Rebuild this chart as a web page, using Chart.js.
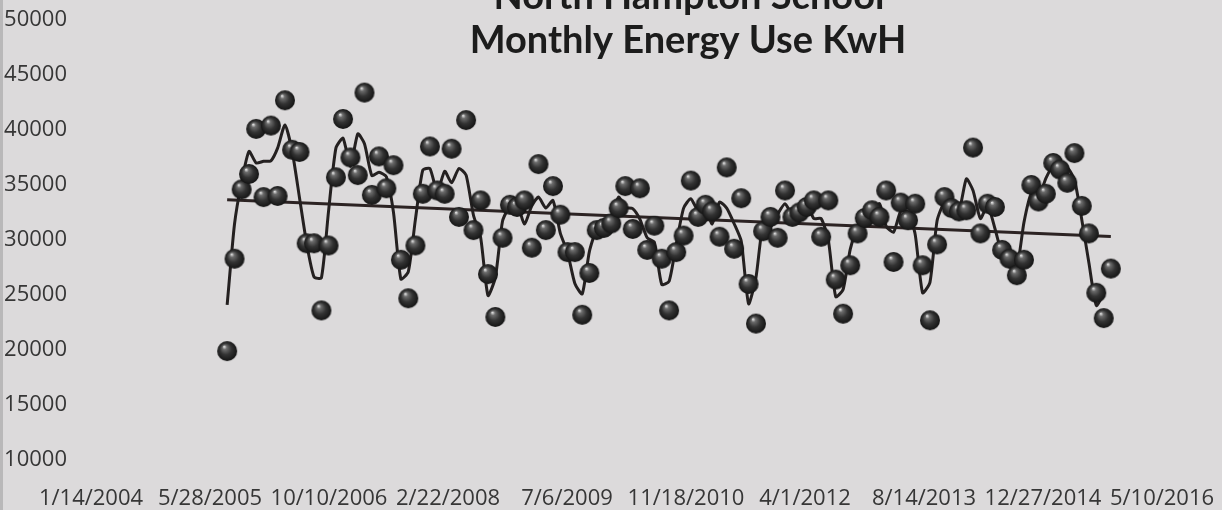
<!DOCTYPE html>
<html>
<head>
<meta charset="utf-8">
<title>North Hampton School - Monthly Energy Use</title>
<script src="https://cdn.jsdelivr.net/npm/chart.js@4.4.1/dist/chart.umd.min.js"></script>
<style>
  html, body { margin: 0; padding: 0; }
  body { background: linear-gradient(to right, #b9b8b9 0, #b9b8b9 3px, #dcdadb 3px); }
  #wrap { width: 1222px; height: 510px; }
</style>
</head>
<body>
<div id="wrap"><canvas id="energyChart" width="1222" height="510"></canvas></div>
<script>
const titleLines = ["North Hampton School", "Monthly Energy Use KwH"];

// monthly readings in kWh, one array per calendar year
// first reading is August 2005, last is October 2015
const firstYear = 2005;
const firstMonth = 7; // 0-based, August
const kwh2005 = [19900, 28300, 34600, 36000, 40100];
const kwh2006 = [33900, 40400, 34000, 42700, 38200, 38000, 29700, 29700, 23600, 29500, 35700, 41000];
const kwh2007 = [37500, 35900, 43400, 34100, 37600, 34700, 36800, 28200, 24700, 29500, 34200, 38500];
const kwh2008 = [34500, 34200, 38300, 32100, 40900, 30900, 33600, 26900, 23000, 30200, 33200, 33000];
const kwh2009 = [33600, 29300, 36900, 30900, 34900, 32300, 28900, 28900, 23200, 27000, 30900, 31100];
const kwh2010 = [31500, 32900, 34900, 31000, 34700, 29100, 31300, 28300, 23600, 28900, 30400, 35400];
const kwh2011 = [32100, 33200, 32600, 30300, 36600, 29200, 33800, 26000, 22400, 30800, 32100, 30200];
const kwh2012 = [34500, 32100, 32500, 33000, 33600, 30300, 33600, 26400, 23300, 27700, 30600, 32000];
const kwh2013 = [32700, 32100, 34500, 28000, 33400, 31800, 33300, 27700, 22700, 29600, 33900, 32900];
const kwh2014 = [32600, 32700, 38400, 30600, 33300, 33000, 29100, 28300, 26800, 28200, 35000, 33500];
const kwh2015 = [34200, 37000, 36400, 35200, 37900, 33100, 30600, 25200, 22900, 27400];

const yearly = [kwh2005, kwh2006, kwh2007, kwh2008, kwh2009, kwh2010,
                kwh2011, kwh2012, kwh2013, kwh2014, kwh2015];

// axis in Excel date serials: 1/14/2004 .. 5/10/2016, every 500 days
const xMin = 38000;
const xMax = 42500;
const xStep = 500;
const yMin = 10000;
const yMax = 50000;
const yStep = 5000;

const toSerial = (y, m, d) => Date.UTC(y, m, d) / 86400000 + 25569;
const serialLabel = (s) => {
  const d = new Date((s - 25569) * 86400000);
  return (d.getUTCMonth() + 1) + "/" + d.getUTCDate() + "/" + d.getUTCFullYear();
};

const points = [];
yearly.forEach((vals, yi) => {
  const start = yi === 0 ? firstMonth : 0;
  vals.forEach((v, k) => {
    points.push({ x: toSerial(firstYear + yi, start + k, 8), y: v });
  });
});

// 2 period moving average
const movingAvg = [];
for (let i = 0; i < points.length - 1; i++) {
  movingAvg.push({ x: points[i].x, y: (points[i].y + points[i + 1].y) / 2 });
}

// linear trend (least squares)
const n = points.length;
const mx = points.reduce((a, p) => a + p.x, 0) / n;
const my = points.reduce((a, p) => a + p.y, 0) / n;
let sxy = 0, sxx = 0;
points.forEach(p => { sxy += (p.x - mx) * (p.y - my); sxx += (p.x - mx) * (p.x - mx); });
const slope = sxy / sxx;
const trend = [points[0].x, points[n - 1].x].map(x => ({ x: x, y: my + slope * (x - mx) }));

const makeBall = (r) => {
  const c = document.createElement("canvas");
  const s = r * 2 + 2;
  c.width = s;
  c.height = s;
  const g = c.getContext("2d");
  const cx = s / 2, cy = s / 2;
  const grad = g.createRadialGradient(cx - r * 0.3, cy - r * 0.45, r * 0.05, cx, cy, r);
  grad.addColorStop(0, "#dadada");
  grad.addColorStop(0.18, "#6c6c6c");
  grad.addColorStop(0.55, "#333333");
  grad.addColorStop(1, "#141414");
  g.fillStyle = grad;
  g.beginPath();
  g.arc(cx, cy, r, 0, Math.PI * 2);
  g.fill();
  return c;
};

const overlayTitle = {
  id: "overlayTitle",
  afterDraw(chart) {
    const ctx = chart.ctx;
    ctx.save();
    ctx.fillStyle = "#1c1c1c";
    ctx.font = "bold 38px Lato";
    ctx.textAlign = "center";
    ctx.textBaseline = "alphabetic";
    ctx.fillText(titleLines[0], 689, 9);
    ctx.fillText(titleLines[1], 688, 53);
    ctx.restore();
  }
};

const tickFont = { family: "'Open Sans', sans-serif", size: 22 };

new Chart(document.getElementById("energyChart"), {
  type: "scatter",
  data: {
    datasets: [
      {
        data: points,
        pointStyle: makeBall(10),
        pointRadius: 10,
        showLine: false
      },
      {
        type: "line",
        data: movingAvg,
        borderColor: "#242020",
        borderWidth: 3,
        pointRadius: 0,
        tension: 0.2,
        fill: false
      },
      {
        type: "line",
        data: trend,
        borderColor: "#2c2323",
        borderWidth: 3,
        pointRadius: 0,
        fill: false
      }
    ]
  },
  options: {
    responsive: false,
    animation: false,
    events: [],
    layout: { padding: { top: 20, right: 60, left: 0, bottom: 0 } },
    plugins: {
      legend: { display: false },
      tooltip: { enabled: false },
      title: { display: false }
    },
    scales: {
      x: {
        type: "linear",
        min: xMin,
        max: xMax,
        grid: { display: false, drawTicks: false },
        border: { display: false },
        ticks: {
          stepSize: xStep,
          padding: 26,
          maxRotation: 0,
          autoSkip: false,
          color: "#363636",
          font: tickFont,
          callback: (v) => serialLabel(v)
        },
        afterFit: (s) => {
          s.height = 50;
          s.paddingLeft = 0;
          s.paddingRight = 0;
        }
      },
      y: {
        min: yMin,
        max: yMax,
        grid: { display: false, drawTicks: false },
        border: { display: false },
        ticks: {
          stepSize: yStep,
          padding: 24,
          color: "#363636",
          font: tickFont,
          callback: (v) => String(v)
        },
        afterFit: (s) => {
          s.width = 91;
          s.paddingTop = 0;
          s.paddingBottom = 0;
        }
      }
    }
  },
  plugins: [overlayTitle]
});
</script>
</body>
</html>
